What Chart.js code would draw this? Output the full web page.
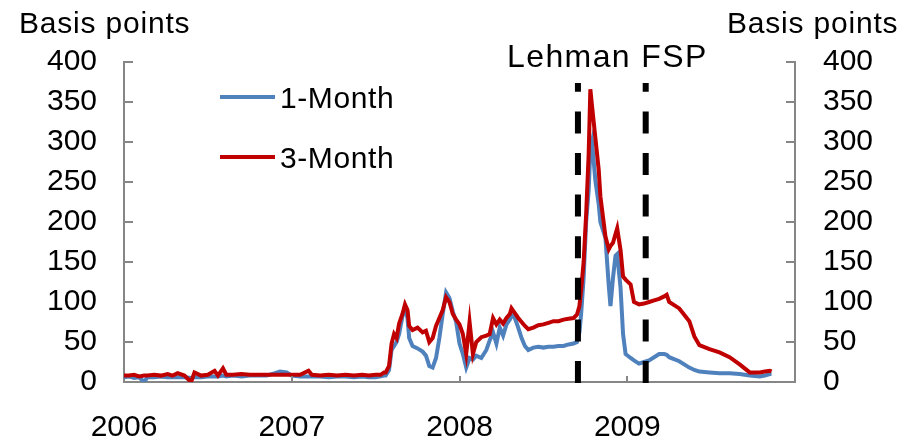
<!DOCTYPE html>
<html>
<head>
<meta charset="utf-8">
<script src="https://cdn.jsdelivr.net/npm/chart.js@4.4.1/dist/chart.umd.min.js"></script>
<style>
  html, body { margin: 0; padding: 0; background: #fff; }
  #wrap { width: 921px; height: 445px; }
</style>
</head>
<body>
<div id="wrap"><canvas id="chart" width="921" height="445"></canvas></div>
<script>
// Dates as decimal years
const dates = [
  2006.00, 2006.03, 2006.06, 2006.09, 2006.12, 2006.14, 2006.18, 2006.22, 2006.26, 2006.29,
  2006.32, 2006.36, 2006.40, 2006.42, 2006.46, 2006.50, 2006.54, 2006.56, 2006.59, 2006.61,
  2006.65, 2006.70, 2006.75, 2006.80, 2006.85, 2006.90, 2006.93, 2006.97, 2007.00, 2007.05,
  2007.10, 2007.12, 2007.17, 2007.22, 2007.27, 2007.32, 2007.37, 2007.42, 2007.46, 2007.50,
  2007.53, 2007.55, 2007.56, 2007.58, 2007.595, 2007.61, 2007.625, 2007.64, 2007.66, 2007.675,
  2007.69, 2007.70, 2007.72, 2007.75, 2007.78, 2007.80, 2007.82, 2007.84, 2007.86, 2007.88,
  2007.90, 2007.92, 2007.94, 2007.96, 2007.98, 2008.00, 2008.02, 2008.04, 2008.06, 2008.08,
  2008.10, 2008.13, 2008.16, 2008.18, 2008.20, 2008.22, 2008.24, 2008.26, 2008.28, 2008.30,
  2008.31, 2008.33, 2008.35, 2008.37, 2008.39, 2008.41, 2008.44, 2008.47, 2008.50, 2008.53,
  2008.56, 2008.59, 2008.62, 2008.65, 2008.68, 2008.70, 2008.715, 2008.725, 2008.74, 2008.755,
  2008.77, 2008.78, 2008.79, 2008.81, 2008.83, 2008.84, 2008.87, 2008.89, 2008.90, 2008.915,
  2008.93, 2008.94, 2008.96, 2008.975, 2008.99, 2009.02, 2009.04, 2009.07, 2009.10, 2009.13,
  2009.16, 2009.19, 2009.22, 2009.235, 2009.25, 2009.31, 2009.37, 2009.40, 2009.43, 2009.49,
  2009.55, 2009.61, 2009.67, 2009.73, 2009.79, 2009.82, 2009.85, 2009.86
];

// 1-Month LIBOR-OIS spread (bp)
const oneMonth = [
  6, 7, 5, 6, 0, 6, 6, 7, 6, 6,
  6, 6, 5, 6, 6, 7, 7, 7, 8, 7,
  8, 7, 8, 8, 8, 11, 13, 12, 8, 7,
  7, 7, 7, 6, 7, 7, 6, 7, 6, 6,
  7, 8, 8, 15, 40, 45, 50, 60, 82, 93,
  80, 55, 45, 42, 38, 33, 20, 18, 30, 55,
  85, 112, 105, 88, 75, 48, 35, 18, 30, 28,
  33, 30, 40, 52, 62, 48, 68, 58, 72, 78,
  84, 80, 68, 55, 45, 40, 43, 44, 43, 44,
  44, 45, 45, 47, 48, 50, 62, 85, 130, 200,
  240, 290, 300, 252, 222, 200, 180, 120, 95, 130,
  158, 160, 118, 60, 35, 30, 27, 23, 25, 27,
  31, 35, 35, 34, 31, 26, 18, 15, 13, 12,
  11, 11, 10, 8, 7, 8, 10, 10
];

// 3-Month LIBOR-OIS spread (bp)
const threeMonth = [
  8, 8, 9, 7, 8, 8, 9, 8, 10, 8,
  11, 8, 0, 12, 8, 9, 14, 8, 17, 9,
  9, 10, 9, 9, 9, 9, 9, 9, 9, 9,
  14, 9, 8, 9, 8, 9, 8, 9, 8, 9,
  9, 12, 12, 20, 48, 60, 55, 73, 85, 97,
  90, 70, 65, 68, 62, 64, 50, 55, 70, 80,
  90, 106, 100, 85, 78, 72, 60, 35, 75, 35,
  50, 56, 58, 60, 80, 72, 78, 73, 80, 85,
  92, 86, 80, 75, 70, 66, 68, 71, 72, 74,
  76, 76, 78, 79, 80, 84, 95, 115, 150, 210,
  285, 366, 345, 305, 265, 232, 182, 166, 170, 174,
  185, 192, 165, 132, 128, 122, 100, 97, 98, 100,
  102, 104, 107, 109, 100, 92, 76, 57, 46, 41,
  37, 31, 22, 12, 12, 13, 14, 13
];

const yearTicks = [2006, 2007, 2008, 2009];
const valueTicks = [0, 50, 100, 150, 200, 250, 300, 350, 400];
const events = [
  { date: 2008.706 },  // Lehman
  { date: 2009.11 }    // FSP
];
const eventLabel = "Lehman FSP";

const FONT = "'Liberation Sans', Arial, sans-serif";
const AXIS_GREY = "#868686";
const BLUE = "#4F81BD";
const RED = "#C00000";

function toPoints(values) {
  return values.map((v, i) => ({ x: dates[i], y: v }));
}

// Inward tick marks, dashed event lines and free text
const decorPlugin = {
  id: "decor",
  afterDatasetsDraw(chart) {
    const ctx = chart.ctx;
    const x = chart.scales.x;
    const yl = chart.scales.y;
    const area = chart.chartArea;

    ctx.save();
    ctx.strokeStyle = AXIS_GREY;
    ctx.lineWidth = 2;
    ctx.beginPath();
    valueTicks.forEach(v => {
      const py = Math.round(yl.getPixelForValue(v));
      ctx.moveTo(area.left, py);
      ctx.lineTo(area.left + 9, py);
      ctx.moveTo(area.right - 9, py);
      ctx.lineTo(area.right, py);
    });
    yearTicks.slice(1).forEach(t => {
      const px = Math.round(x.getPixelForValue(t));
      ctx.moveTo(px, area.bottom);
      ctx.lineTo(px, area.bottom - 6);
    });
    ctx.stroke();

    // Event lines
    ctx.strokeStyle = "#000";
    ctx.lineWidth = 6;
    ctx.lineCap = "butt";
    ctx.setLineDash([22, 19.6]);
    events.forEach(e => {
      const px = x.getPixelForValue(e.date);
      ctx.beginPath();
      ctx.moveTo(px, area.bottom + 1);
      ctx.lineTo(px, 83);
      ctx.stroke();
    });
    ctx.restore();

    ctx.save();
    ctx.fillStyle = "#000";
    ctx.textBaseline = "alphabetic";
    ctx.textAlign = "left";

    ctx.font = "30px " + FONT;
    ctx.letterSpacing = "0.8px";
    ctx.fillText("Basis points", 19, 33);
    ctx.fillText("Basis points", 727, 33);

    ctx.font = "32px " + FONT;
    ctx.letterSpacing = "1.4px";
    ctx.fillText(eventLabel, 507, 67);

    // Legend
    const legend = [
      { label: "1-Month", color: BLUE, y: 97 },
      { label: "3-Month", color: RED, y: 157 }
    ];
    ctx.font = "30px " + FONT;
    ctx.letterSpacing = "0.6px";
    legend.forEach(item => {
      ctx.strokeStyle = item.color;
      ctx.lineWidth = 4;
      ctx.beginPath();
      ctx.moveTo(220, item.y);
      ctx.lineTo(275, item.y);
      ctx.stroke();
      ctx.fillText(item.label, 280, item.y + 11);
    });
    ctx.restore();
  }
};

const tickFont = { family: FONT, size: 30 };

new Chart(document.getElementById("chart"), {
  type: "line",
  data: {
    datasets: [
      {
        label: "3-Month",
        data: toPoints(threeMonth),
        borderColor: RED,
        borderWidth: 4,
        pointRadius: 0,
        tension: 0,
        order: 0
      },
      {
        label: "1-Month",
        data: toPoints(oneMonth),
        borderColor: BLUE,
        borderWidth: 4,
        pointRadius: 0,
        tension: 0,
        order: 1
      }
    ]
  },
  options: {
    responsive: false,
    animation: false,
    layout: { padding: { top: 62, left: 0, right: 0, bottom: 0 } },
    plugins: {
      legend: { display: false },
      title: { display: false },
      tooltip: { enabled: false }
    },
    scales: {
      x: {
        type: "linear",
        min: 2006,
        max: 2010,
        afterBuildTicks: axis => { axis.ticks = yearTicks.map(v => ({ value: v })); },
        afterFit: axis => { axis.height = 63; },
        grid: { display: false, drawTicks: false },
        border: { display: true, color: AXIS_GREY, width: 2 },
        ticks: {
          color: "#000",
          font: tickFont,
          padding: 28,
          maxRotation: 0,
          autoSkip: false,
          callback: v => String(v)
        }
      },
      y: {
        position: "left",
        min: 0,
        max: 400,
        afterBuildTicks: axis => { axis.ticks = valueTicks.map(v => ({ value: v })); },
        afterFit: axis => { axis.width = 124; },
        grid: { display: false, drawTicks: false },
        border: { display: true, color: AXIS_GREY, width: 2 },
        ticks: { color: "#000", font: tickFont, padding: 27 }
      },
      y2: {
        position: "right",
        min: 0,
        max: 400,
        afterBuildTicks: axis => { axis.ticks = valueTicks.map(v => ({ value: v })); },
        afterFit: axis => { axis.width = 126; },
        grid: { display: false, drawTicks: false },
        border: { display: true, color: AXIS_GREY, width: 2 },
        ticks: { color: "#000", font: tickFont, padding: 28 }
      }
    }
  },
  plugins: [decorPlugin]
});
</script>
</body>
</html>
